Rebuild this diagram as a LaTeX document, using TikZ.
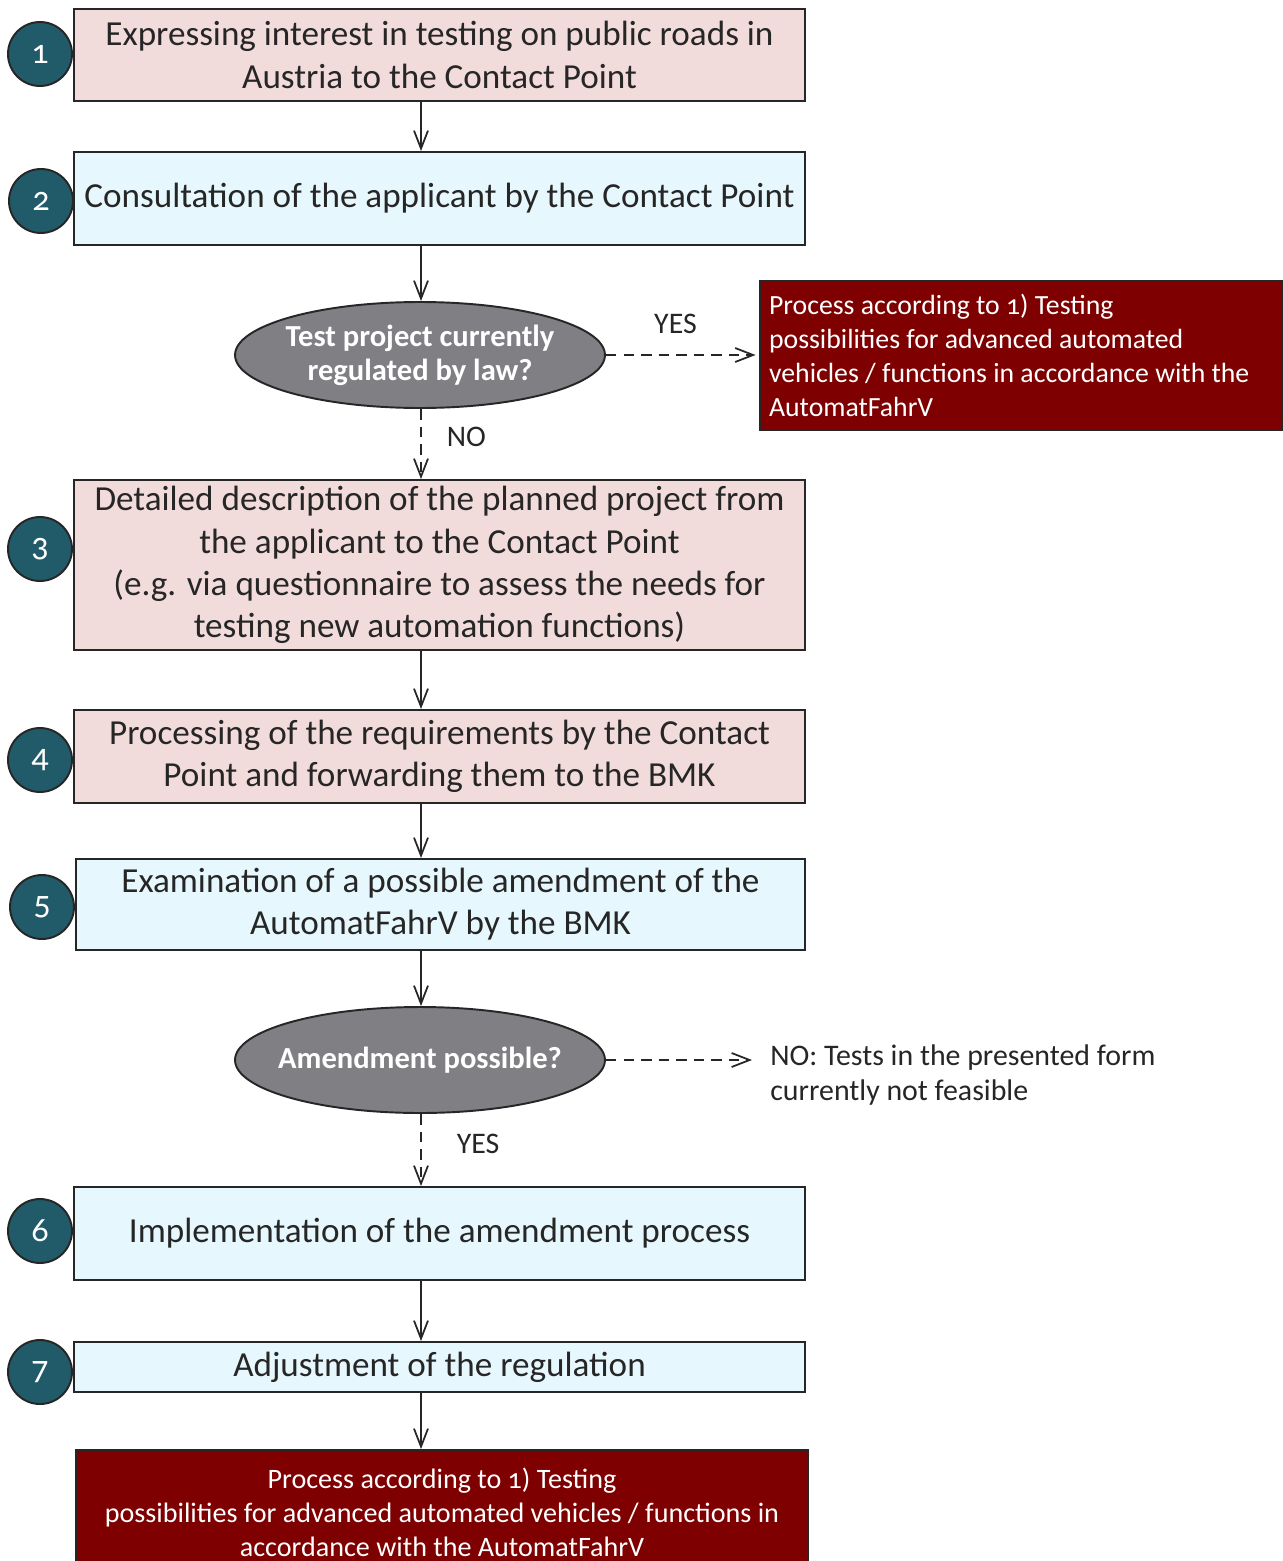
\documentclass[tikz,border=0pt]{standalone}
\usepackage{fontspec}
\setmainfont[Numbers=OldStyle]{Carlito}
\usetikzlibrary{arrows.meta,positioning,shapes.geometric}

\definecolor{boxpink}{HTML}{F2DCDB}
\definecolor{boxcyan}{HTML}{E6F8FE}
\definecolor{numteal}{HTML}{215A68}
\definecolor{decgray}{HTML}{7F7F84}
\definecolor{resred}{HTML}{7F0000}
\definecolor{edgegray}{HTML}{262626}

\begin{document}
\begin{tikzpicture}[x=0.02cm,y=-0.02cm,
  stepbox/.style={draw=edgegray,line width=1.1pt,minimum width=14.62cm,inner sep=0pt,
    align=center,text=edgegray,font=\fontsize{20}{24}\selectfont},
  pinkbox/.style={stepbox,fill=boxpink},
  cyanbox/.style={stepbox,fill=boxcyan},
  decision/.style={ellipse,draw=edgegray,line width=1.1pt,fill=decgray,minimum width=7.4cm,
    minimum height=2.12cm,inner xsep=-0.4cm,inner ysep=-0.3cm,align=center,text=white,
    font=\bfseries\fontsize{17.4}{19.4}\selectfont},
  resultbox/.style={draw=edgegray,line width=1.1pt,fill=resred,inner sep=0pt,text=white,
    font=\fontsize{16}{19.4}\selectfont},
  num/.style={circle,draw=edgegray,line width=1.1pt,fill=numteal,minimum size=1.28cm,
    inner sep=0pt,text=white,font=\fontsize{19.5}{24}\selectfont},
  lbl/.style={inner sep=0pt,text=edgegray,font=\fontsize{17}{19.4}\selectfont},
  arr/.style={draw=edgegray,line width=1pt,-{Straight Barb[length=0.36cm,width=0.28cm]}},
  darr/.style={arr,dash pattern=on 6pt off 4pt}]

\useasboundingbox (0,0) rectangle (1283,1561);
\clip (0,0) rectangle (1283,1561);

\coordinate (axis) at (421,0);

% steps
\node[pinkbox,minimum height=1.84cm] (b1) at (439.5,55)
  {Expressing interest in testing on public roads in\\Austria to the Contact Point};
\node[cyanbox,minimum height=1.86cm] (b2) at (439.5,198.5)
  {Consultation of the applicant by the Contact Point};
\node[decision] (d1) at (420,355) {Test project currently\\regulated by law?};
\node[resultbox,minimum width=10.44cm,minimum height=2.98cm,text width=10.08cm,
  inner xsep=0.18cm,align=flush left,font=\fontsize{15.8}{19.4}\selectfont] (r1) at (1021,355.5)
  {Process according to 1) Testing\\possibilities for advanced automated\\vehicles / functions in accordance with the\\AutomatFahrV};
\node[pinkbox,minimum height=3.4cm] (b3) at (439.5,565)
  {Detailed description of the planned project from\\the applicant to the Contact Point\\(e.g. via questionnaire to assess the needs for\\testing new automation functions)};
\node[pinkbox,minimum height=1.86cm] (b4) at (439.5,756.5)
  {Processing of the requirements by the Contact\\Point and forwarding them to the BMK};
\node[cyanbox,minimum width=14.58cm,minimum height=1.82cm] (b5) at (440.5,904.5)
  {Examination of a possible amendment of the\\AutomatFahrV by the BMK};
\node[decision] (d2) at (420,1060) {Amendment possible?};
\node[lbl,align=left,anchor=west] (nofeas) at (770,1075)
  {NO: Tests in the presented form\\currently not feasible};
\node[cyanbox,minimum height=1.86cm] (b6) at (439.5,1233.5)
  {Implementation of the amendment process};
\node[cyanbox,minimum height=1cm] (b7) at (439.5,1367)
  {Adjustment of the regulation};
\node[resultbox,minimum width=14.64cm,minimum height=2.48cm,align=center] (r2) at (442,1512)
  {Process according to 1) Testing\\possibilities for advanced automated vehicles / functions in\\accordance with the AutomatFahrV};

% step numbers
\foreach \n/\x/\y in {1/40/54,2/41/201,3/40/549,4/40/760,5/42/907,6/40/1231,7/40/1372}
  \node[num] (n\n) at (\x,\y) {\n};

% flow
\foreach \f/\t in {b1/b2,b3/b4,b4/b5,b6/b7,b7/r2}
  \draw[arr] (\f.south -| axis) -- (\t.north -| axis);
\draw[arr] (b2.south -| axis) -- (d1.north -| axis);
\draw[arr] (b5.south -| axis) -- (d2.north -| axis);

\draw[darr,shorten >=2pt] (d1.east) -- node[lbl,above=0.4cm,xshift=-0.14cm] (yes1) {YES} (r1.west |- d1.east);
\draw[darr] (d1.south -| axis) -- node[lbl,right=0.5cm,pos=0.4] (no1) {NO} (b3.north -| axis);
\draw[darr,shorten >=0.36cm] (d2.east) -- (d2.east -| nofeas.west);
\draw[darr] (d2.south -| axis) -- node[lbl,right=0.7cm,pos=0.42] (yes2) {YES} (b6.north -| axis);

\end{tikzpicture}
\end{document}
